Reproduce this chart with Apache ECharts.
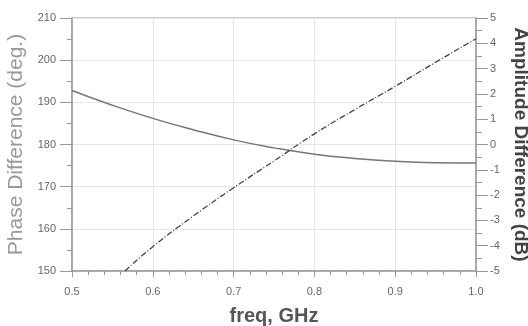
<!DOCTYPE html>
<html><head><meta charset="utf-8">
<script src="https://cdn.jsdelivr.net/npm/echarts@6/dist/echarts.min.js"></script>
<style>html,body{margin:0;padding:0;background:#fff}#c{width:528px;height:326px}</style>
</head><body><div id="c"></div>
<script>
const xTicks = [0.5, 0.6, 0.7, 0.8, 0.9, 1.0];
const phaseFreq = [0.5, 0.55, 0.6, 0.65, 0.7, 0.75, 0.8, 0.85, 0.9, 0.95, 1.0];
const phaseDeg  = [192.8, 189.3, 186.2, 183.5, 181.1, 179.2, 177.7, 176.7, 176.0, 175.7, 175.6];
const ampFreq = [0.5656, 0.6, 0.65, 0.7, 0.75, 0.8, 0.85, 0.9, 0.95, 1.0];
const ampDb   = [-5.0, -4.04, -2.83, -1.71, -0.65, 0.42, 1.38, 2.3, 3.25, 4.18];

const chart = echarts.init(document.getElementById('c'));
const axisLine = {show: true, onZero: false, lineStyle: {color: '#999', width: 1.5}};
const lbl = {color: '#666', fontSize: 11, fontFamily: 'Liberation Sans, Arial'};
chart.setOption({
  animation: false,
  grid: {left: 72, right: 52, top: 18, bottom: 55, show: true, borderColor: '#999', borderWidth: 1,
         containLabel: false, outerBoundsMode: 'none'},
  xAxis: {
    type: 'value', min: 0.5, max: 1.0, interval: 0.1,
    name: 'freq, GHz', nameLocation: 'middle', nameGap: 35,
    nameTextStyle: {color: '#555', fontSize: 20, fontWeight: 'bold', fontFamily: 'Liberation Sans, Arial'},
    axisLine: axisLine,
    axisTick: {show: true, length: 6, lineStyle: {color: '#999'}},
    minorTick: {show: true, splitNumber: 5, length: 4, lineStyle: {color: '#999'}},
    axisLabel: Object.assign({formatter: v => v.toFixed(1), margin: 15}, lbl),
    splitLine: {show: true, lineStyle: {color: '#e6e6e6'}}
  },
  yAxis: [{
    type: 'value', min: 150, max: 210, interval: 10, position: 'left',
    name: 'Phase Difference (deg.)', nameLocation: 'middle', nameGap: 45,
    nameTextStyle: {color: '#999', fontSize: 21, fontFamily: 'Liberation Sans, Arial'},
    axisLine: axisLine,
    axisTick: {show: true, length: 12, lineStyle: {color: '#999'}},
    minorTick: {show: true, splitNumber: 2, length: 5, lineStyle: {color: '#999'}},
    axisLabel: Object.assign({margin: 16}, lbl),
    splitLine: {show: true, lineStyle: {color: '#e6e6e6'}}
  }, {
    type: 'value', min: -5, max: 5, interval: 1, position: 'right',
    name: 'Amplitude Difference (dB)', nameLocation: 'middle', nameGap: 30, nameRotate: -90,
    nameTextStyle: {color: '#444', fontSize: 19, fontWeight: 'bold', fontFamily: 'Liberation Sans, Arial'},
    axisLine: axisLine,
    axisTick: {show: true, length: 12, lineStyle: {color: '#999'}},
    minorTick: {show: true, splitNumber: 2, length: 6, lineStyle: {color: '#999'}},
    axisLabel: Object.assign({margin: 14}, lbl),
    splitLine: {show: false}
  }],
  series: [{
    type: 'line', yAxisIndex: 0, smooth: true, symbol: 'none',
    data: phaseFreq.map((f, i) => [f, phaseDeg[i]]),
    lineStyle: {color: '#777', width: 1.5}
  }, {
    type: 'line', yAxisIndex: 1, smooth: true, symbol: 'none',
    data: ampFreq.map((f, i) => [f, ampDb[i]]),
    lineStyle: {color: '#444', width: 1.3, type: [6, 2, 1, 2]}
  }]
});
</script></body></html>
